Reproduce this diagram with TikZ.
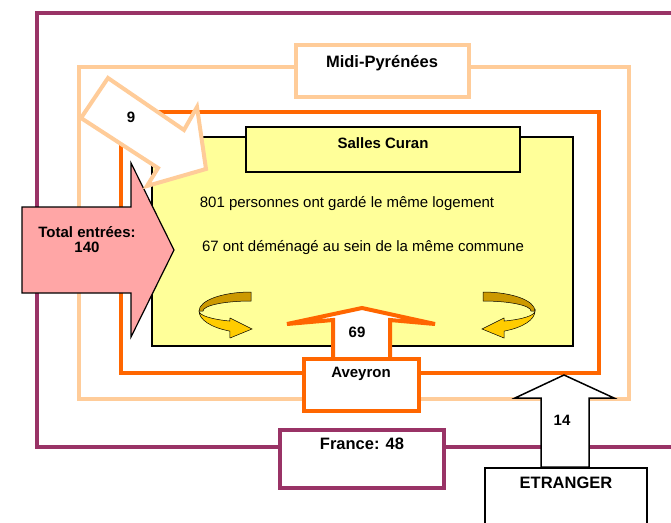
\documentclass[tikz,border=0pt]{standalone}
\usepackage{fontspec}
\setmainfont{Liberation Sans}
\definecolor{prune}{HTML}{993366}
\definecolor{peche}{HTML}{FFCC99}
\definecolor{orangevif}{HTML}{FF6600}
\definecolor{jaunepale}{HTML}{FFFF99}
\definecolor{rosepale}{HTML}{FFA6A6}
\definecolor{ocre}{HTML}{CC9900}
\definecolor{jaunesoleil}{HTML}{FFCC00}
\tikzset{
  lbl/.style={font=\bfseries\fontsize{15}{17}\selectfont, anchor=base, inner sep=0pt},
  biglbl/.style={lbl, font=\bfseries\fontsize{16.5}{18}\selectfont},
  txt/.style={font=\fontsize{15}{17}\selectfont, anchor=base, inner sep=0pt},
  curl/.pic={
    \draw [fill=ocre, line width=0.5pt] (0,-19) arc [start angle=270, end angle=180, x radius=52, y radius=19]
      -- (-48,0) arc [start angle=180, end angle=270, x radius=48, y radius=10] -- cycle;
    \draw [fill=jaunesoleil, line width=0.5pt] (-52,0) arc [start angle=180, end angle=114, x radius=52, y radius=22]
      -- (-21,27) -- (1,18) -- (-21,7) -- (-21.15,10.05)
      arc [start angle=114, end angle=180, x radius=52, y radius=11] -- cycle;
  }
}
\begin{document}
\begin{tikzpicture}[x=1pt, y=-1pt, line join=miter]
            \clip (0,0) rectangle (671,522);
            % cadres emboites
            \draw [prune, line width=4pt] (37,13) rectangle (690,447);
            \draw [peche, line width=4pt] (79,67) rectangle (629,399);
            \draw [peche, line width=4pt, fill=white] (296,44.5) rectangle (469,97);
            \node [biglbl] (midi) at (382,67) {Midi-Pyrénées};
            \draw [orangevif, line width=4pt] (121,112) rectangle (599,373);
            \draw [line width=2pt, fill=jaunepale] (152,137) rectangle (573,346);
            \draw [line width=2pt, fill=jaunepale] (246,127) rectangle (520,172);
            \node [lbl] (salles) at (383,148) {Salles Curan};
            \node [txt] (garde) at (347,207) {801 personnes ont gardé le même logement};
            \node [txt] (demenage) at (363,251) {67 ont déménagé au sein de la même commune};
            % fleches tournantes
            \pic at (251,311) {curl};
            \pic [xscale=-1] at (483,311) {curl};
            % fleche 69
            \draw [orangevif, line width=4pt, fill=white] (333,359) -- (333,320) -- (287,324) -- (362,308)
              -- (435,324) -- (390,320) -- (390,359) -- cycle;
            \node [lbl] (n69) at (357,337) {69};
            \draw [orangevif, line width=4pt, fill=white] (304,359) rectangle (419,411);
            \node [lbl] (aveyron) at (361,377) {Aveyron};
            \draw [prune, line width=4pt, fill=white] (280,430) rectangle (444,488);
            \node [biglbl] (france) at (362,449) {France: 48};
            % fleche 14
            \draw [line width=1.5pt, fill=white] (541,467) -- (541,398) -- (515,398) -- (564,375)
              -- (614,398) -- (589,398) -- (589,467) -- cycle;
            \node [lbl] (n14) at (562,425) {14};
            \draw [line width=2pt, fill=white] (485,468) rectangle (647,540);
            \node [biglbl] (etranger) at (566,488) {ETRANGER};
            % total
            \draw [line width=1.2pt, fill=rosepale] (22,207) -- (131,207) -- (131,163) -- (174,250)
              -- (131,337) -- (131,293) -- (22,293) -- cycle;
            \node [lbl, anchor=center, align=center, font=\bfseries\fontsize{15}{15}\selectfont] (total) at (87,240) {Total entrées:\\140};
            % fleche 9
            \draw [peche, line width=4pt, fill=white] (108,78) -- (184,130) -- (197,107) -- (206,169)
              -- (147,186) -- (158,168) -- (81,118) -- cycle;
            \node [lbl] (n9) at (131,122) {9};
\end{tikzpicture}
\end{document}
